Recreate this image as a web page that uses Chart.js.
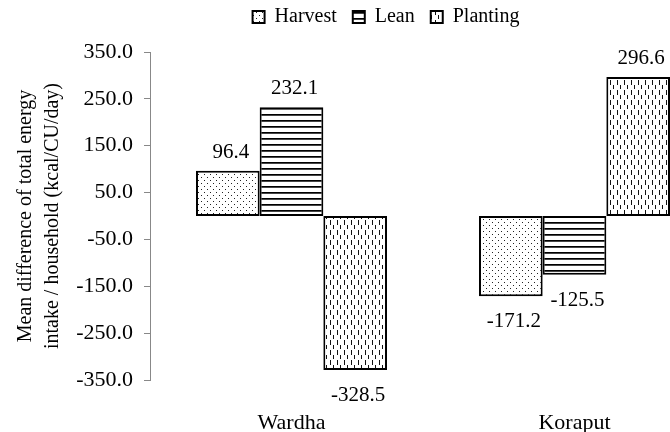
<!DOCTYPE html>
<html><head><meta charset="utf-8">
<style>html,body{margin:0;padding:0;overflow:hidden;background:#fff;width:670px;height:432px}canvas{display:block}</style>
<script src="https://cdn.jsdelivr.net/npm/chart.js@4"></script>
</head><body>
<canvas id="c" width="769" height="432"></canvas>
<script>
const categories = ['Wardha', 'Koraput'];
const seriesNames = ['Harvest', 'Lean', 'Planting'];
const harvest = [96.4, -171.2];
const lean = [232.1, -125.5];
const planting = [-328.5, 296.6];
const yMin = -350, yMax = 350, yStep = 100;
const yTitle = ['Mean difference of total energy', 'intake / household (kcal/CU/day)'];

const FONT = '"Liberation Serif", "Times New Roman", serif';

function makePattern(kind) {
  const c = document.createElement('canvas');
  const g = c.getContext('2d');
  if (kind === 'dots') {
    c.width = 6; c.height = 6;
    g.fillStyle = '#fff'; g.fillRect(0, 0, 6, 6);
    g.fillStyle = '#222';
    g.fillRect(0, 0, 1, 1); g.fillRect(3, 3, 1, 1);
  } else if (kind === 'hlines') {
    c.width = 4; c.height = 6;
    g.fillStyle = '#fff'; g.fillRect(0, 0, 4, 6);
    g.fillStyle = '#000'; g.fillRect(0, 0, 4, 1);
    g.fillStyle = '#444'; g.fillRect(0, 1, 4, 1);
  } else {
    c.width = 7; c.height = 10;
    g.fillStyle = '#fff'; g.fillRect(0, 0, 7, 10);
    g.fillStyle = '#111';
    g.fillRect(1, 0, 1, 5);
    g.fillRect(4, 5, 1, 4);
  }
  return g.createPattern(c, 'repeat');
}

const ctx = document.getElementById('c').getContext('2d');

const dataLabels = {
  id: 'dataLabels',
  afterDatasetsDraw(chart) {
    const c = chart.ctx;
    c.save();
    c.font = '21px ' + FONT;
    c.fillStyle = '#000';
    c.textAlign = 'center';
    c.textBaseline = 'alphabetic';
    chart.data.datasets.forEach((ds, i) => {
      const meta = chart.getDatasetMeta(i);
      meta.data.forEach((el, j) => {
        const v = ds.data[j];
        const x = el.x + 3;
        const y = v >= 0 ? el.y - 13 : el.y + 31;
        c.fillText(v.toFixed(1), x, y);
      });
    });
    c.restore();
  }
};

const legendFix = {
  id: 'legendFix',
  beforeLayout(chart) {
    const lg = chart.legend;
    if (lg && !lg._patched) {
      const fit = lg.fit;
      lg.fit = function () { fit.call(this); this.height = 61; };
      const draw = lg.draw;
      lg.draw = function () {
        const c = this.ctx || chart.ctx;
        c.save();
        c.translate(28, 0);
        draw.apply(this, arguments);
        c.restore();
      };
      lg._patched = true;
    }
  }
};

const mk = (label, data, kind) => ({
  label, data,
  backgroundColor: makePattern(kind),
  borderColor: '#000',
  borderWidth: 2,
  borderSkipped: false,
  categoryPercentage: 0.675,
  barPercentage: 1.0
});

new Chart(ctx, {
  type: 'bar',
  data: {
    labels: categories,
    datasets: [
      mk(seriesNames[0], harvest, 'dots'),
      mk(seriesNames[1], lean, 'hlines'),
      mk(seriesNames[2], planting, 'dashes')
    ]
  },
  options: {
    responsive: false,
    animation: false,
    devicePixelRatio: 1,
    layout: { padding: { left: 0, right: 53, top: -9, bottom: 0 } },
    plugins: {
      legend: {
        position: 'top',
        labels: {
          font: { family: FONT, size: 20 },
          color: '#000',
          boxWidth: 12,
          boxHeight: 12,
          padding: 16
        }
      },
      tooltip: { enabled: false }
    },
    scales: {
      x: {
        grid: { display: false, drawTicks: false },
        border: { display: false },
        ticks: { font: { family: FONT, size: 22 }, color: '#000', padding: 30 },
        afterFit(s) { s.height = 52; }
      },
      y: {
        min: yMin, max: yMax,
        ticks: {
          stepSize: yStep,
          font: { family: FONT, size: 22 },
          color: '#000',
          padding: 11,
          callback: v => Number(v).toFixed(1)
        },
        grid: { drawOnChartArea: false, drawTicks: true, tickLength: 6, color: '#888', lineWidth: 1 },
        border: { color: '#888', width: 1 },
        title: {
          display: true,
          text: yTitle,
          font: { family: FONT, size: 20, lineHeight: 1.35 },
          color: '#000',
          padding: { top: 12, bottom: 0 }
        },
        afterFit(s) { s.width = 150; }
      }
    }
  },
  plugins: [dataLabels, legendFix]
});
</script>
</body></html>
